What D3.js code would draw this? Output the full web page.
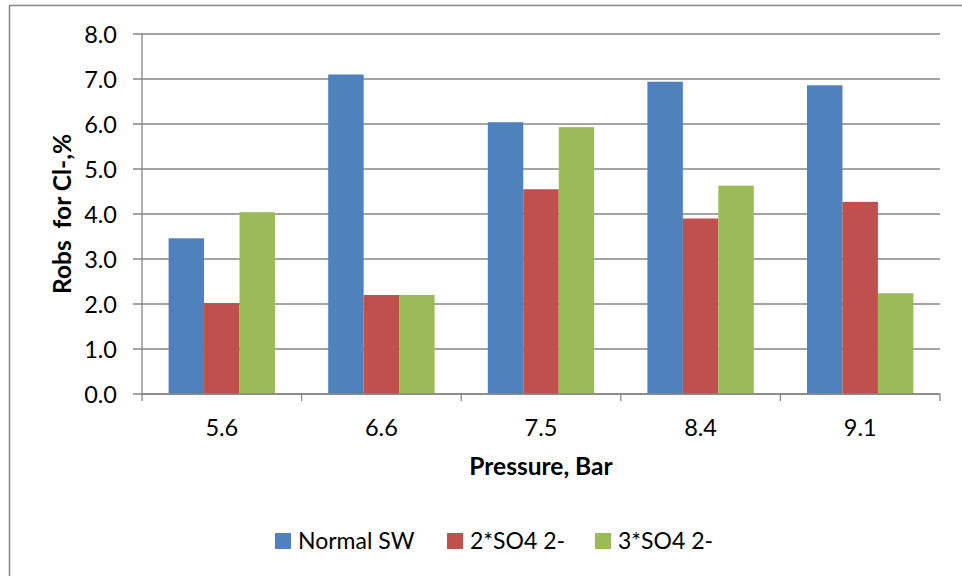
<!DOCTYPE html>
<html>
<head>
<meta charset="utf-8">
<script src="https://cdn.jsdelivr.net/npm/d3@7.9.0/dist/d3.min.js"></script>
<style>
  body { margin: 0; background: #fff; }
  svg { display: block; font-family: Lato, "Open Sans", sans-serif; }
</style>
</head>
<body>
<svg id="chart" width="962" height="576"></svg>
<script>
// data
const pressures = ['5.6', '6.6', '7.5', '8.4', '9.1'];
const seriesNames = ['Normal SW', '2*SO4 2-', '3*SO4 2-'];
const normalSW = [3.46, 7.1, 6.04, 6.94, 6.86];
const so4x2 = [2.02, 2.2, 4.55, 3.9, 4.27];
const so4x3 = [4.04, 2.2, 5.93, 4.63, 2.24];
const yTicks = [0, 1, 2, 3, 4, 5, 6, 7, 8];
const colors = ['#4f81bd', '#c0504d', '#9bbb59'];

const values = [normalSW, so4x2, so4x3];
const svg = d3.select('#chart');
const grid = '#868686';

// outer chart frame
svg.append('rect')
  .attr('x', 9.5).attr('y', 5.5)
  .attr('width', 1000).attr('height', 620)
  .attr('fill', 'none').attr('stroke', grid).attr('stroke-width', 1.5);

const plot = { left: 142, right: 940, top: 34, bottom: 394 };

const y = d3.scaleLinear().domain([0, 8]).range([plot.bottom, plot.top]);
const x0 = d3.scaleBand().domain(pressures).range([plot.left, plot.right]);
const x1 = d3.scaleBand().domain(seriesNames).range([0, x0.bandwidth()])
  .paddingInner(0).paddingOuter(0.75);

// gridlines + y ticks
svg.append('g')
  .selectAll('line')
  .data(yTicks)
  .join('line')
  .attr('x1', plot.left - 9).attr('x2', plot.right)
  .attr('y1', d => y(d)).attr('y2', d => y(d))
  .attr('stroke', grid).attr('stroke-width', 1.3);

svg.append('g')
  .selectAll('text')
  .data(yTicks)
  .join('text')
  .attr('x', 117).attr('y', d => y(d) + 8.5)
  .attr('text-anchor', 'end')
  .attr('font-size', 23.5)
  .text(d => d3.format('.1f')(d));

// bars
const groups = svg.append('g')
  .selectAll('g')
  .data(pressures)
  .join('g')
  .attr('transform', d => `translate(${x0(d)},0)`);

groups.selectAll('rect')
  .data((p, i) => seriesNames.map((s, j) => ({ s, j, v: values[j][i] })))
  .join('rect')
  .attr('x', d => x1(d.s))
  .attr('width', x1.bandwidth())
  .attr('y', d => y(d.v))
  .attr('height', d => y(0) - y(d.v))
  .attr('fill', d => colors[d.j]);

// axes lines
svg.append('line')
  .attr('x1', plot.left).attr('x2', plot.left)
  .attr('y1', plot.top).attr('y2', plot.bottom)
  .attr('stroke', grid).attr('stroke-width', 1.3);
svg.append('line')
  .attr('x1', plot.left).attr('x2', plot.right)
  .attr('y1', plot.bottom).attr('y2', plot.bottom)
  .attr('stroke', grid).attr('stroke-width', 1.3);

// category ticks at band edges
const edges = pressures.map(p => x0(p)).concat([plot.right]);
svg.append('g')
  .selectAll('line')
  .data(edges)
  .join('line')
  .attr('x1', d => d).attr('x2', d => d)
  .attr('y1', plot.bottom).attr('y2', plot.bottom + 7)
  .attr('stroke', grid).attr('stroke-width', 1.3);

svg.append('g')
  .selectAll('text')
  .data(pressures)
  .join('text')
  .attr('x', d => x0(d) + x0.bandwidth() / 2)
  .attr('y', 436)
  .attr('text-anchor', 'middle')
  .attr('font-size', 23.5)
  .text(d => d);

// axis titles
svg.append('text')
  .attr('x', 541).attr('y', 475)
  .attr('text-anchor', 'middle')
  .attr('font-size', 24.5).attr('font-weight', 'bold')
  .text('Pressure, Bar');

svg.append('text')
  .attr('transform', 'translate(71,214) rotate(-90)')
  .attr('text-anchor', 'middle')
  .attr('font-size', 24.5).attr('font-weight', 'bold')
  .style('white-space', 'pre')
  .text('Robs  for Cl-,%');

// legend
const legendX = [275, 447, 595];
const legend = svg.append('g')
  .selectAll('g')
  .data(seriesNames)
  .join('g')
  .attr('transform', (d, i) => `translate(${legendX[i]},533)`);
legend.append('rect')
  .attr('width', 16).attr('height', 16)
  .attr('fill', (d, i) => colors[i]);
legend.append('text')
  .attr('x', 23).attr('y', 16)
  .attr('font-size', 23)
  .text(d => d);
</script>
</body>
</html>
